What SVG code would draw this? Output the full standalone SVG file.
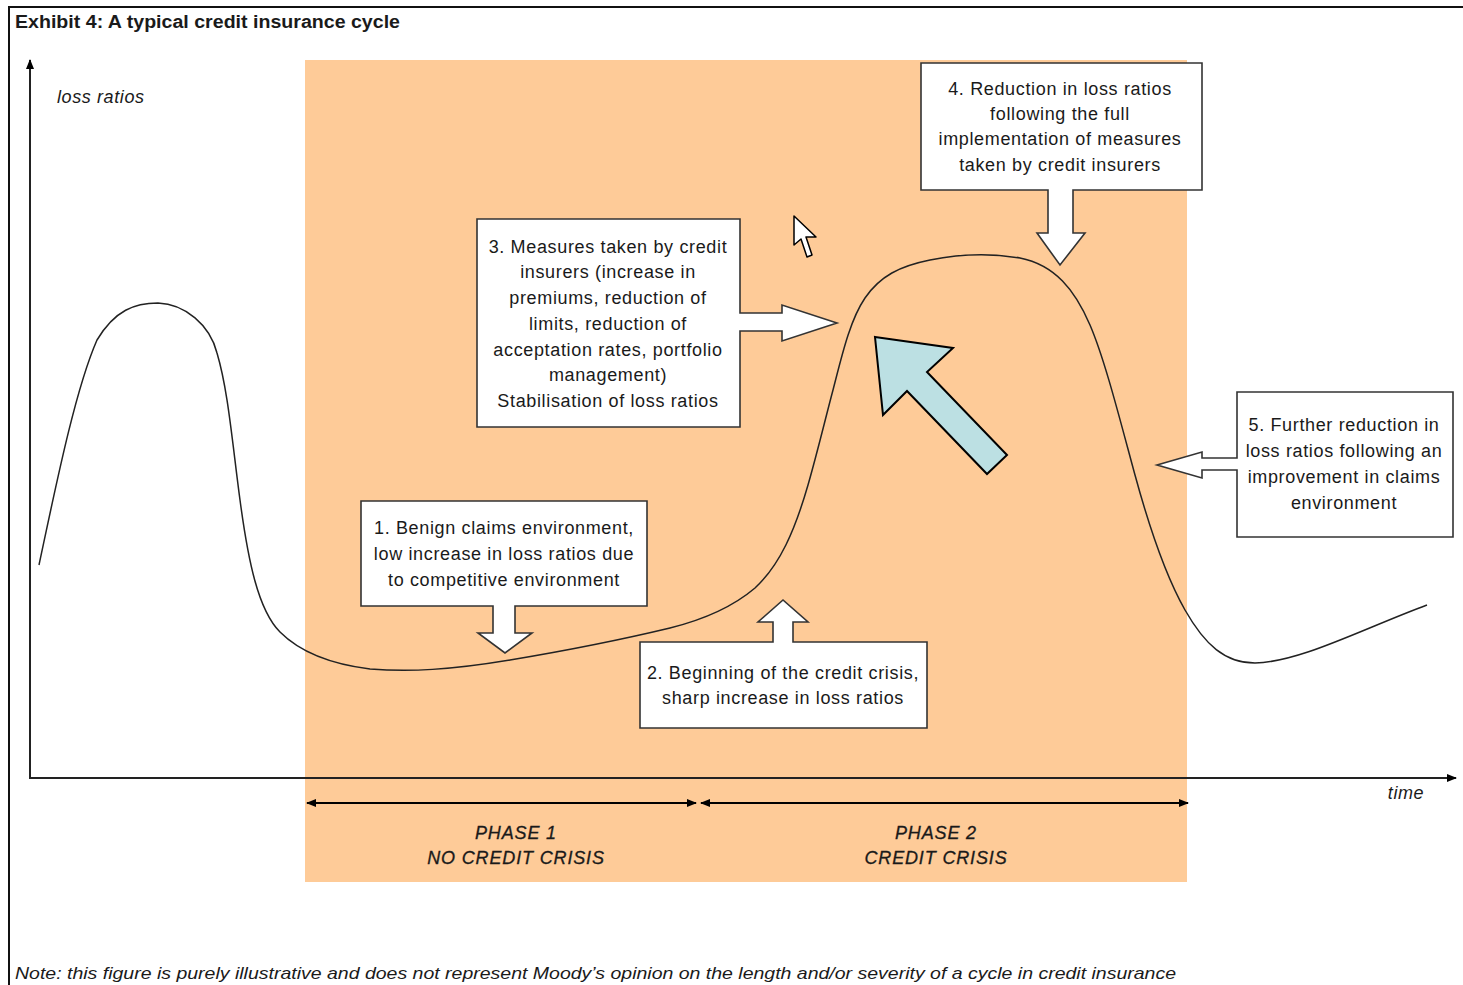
<svg xmlns="http://www.w3.org/2000/svg" width="1463" height="985" viewBox="0 0 1463 985">
<style>
text{font-family:"Liberation Sans",Arial,sans-serif;fill:#1a1a1a}
.box{fill:#fff;stroke:#333;stroke-width:1.6}
.bt{font-size:18px;letter-spacing:0.65px;text-anchor:middle}
.it{font-style:italic;font-size:18px;letter-spacing:0.6px}
.ph{font-size:18px;font-style:italic;text-anchor:middle;letter-spacing:0.85px;stroke:#1a1a1a;stroke-width:0.3}
.ax{stroke:#222;stroke-width:2;fill:none}
.pa{stroke:#000;stroke-width:2;fill:none}
</style>
<defs>
<marker id="ah" viewBox="0 0 10 10" refX="9" refY="5" markerWidth="5" markerHeight="5" orient="auto-start-reverse" markerUnits="strokeWidth">
<path d="M0,1 L10,5 L0,9 Z" fill="#000"/>
</marker>
<marker id="axh" viewBox="0 0 10 10" refX="9" refY="5" markerWidth="5" markerHeight="5" orient="auto" markerUnits="strokeWidth">
<path d="M0,1 L10,5 L0,9 Z" fill="#000"/>
</marker>
</defs>
<rect width="1463" height="985" fill="#fff"/>
<path d="M9,985 V7 H1463" fill="none" stroke="#111" stroke-width="2"/>
<text x="15" y="28" font-size="18" font-weight="bold" textLength="385" lengthAdjust="spacingAndGlyphs">Exhibit 4: A typical credit insurance cycle</text>
<rect id="crisis-band" x="305" y="60" width="882" height="822" fill="#FECB98"/>
<g id="connectors">
<line class="ax" x1="30" y1="779" x2="30" y2="60" marker-end="url(#axh)"/>
<line class="ax" x1="30" y1="778" x2="1456" y2="778" marker-end="url(#axh)"/>
<line class="pa" x1="307" y1="803" x2="696" y2="803" marker-start="url(#ah)" marker-end="url(#ah)"/>
<line class="pa" x1="701" y1="803" x2="1188" y2="803" marker-start="url(#ah)" marker-end="url(#ah)"/>
</g>
<text class="it" x="57" y="103">loss ratios</text>
<text class="it" x="1406" y="799" text-anchor="middle">time</text>
<path id="cycle-curve" d="M39,565 C55,490 75,390 97,340 C115,310 135,303 158,303 C185,304 210,325 217,353 C228,390 232,440 240,500 C248,560 258,610 280,632 C300,652 330,664 370,669 C410,672 450,670 510,660 C570,650 620,640 670,628 C710,618 735,605 755,588 C780,565 795,530 808,485 C818,450 825,420 833,390 C842,355 850,320 865,298 C880,276 900,266 930,260 C960,254 990,253 1020,258 C1055,265 1075,290 1090,325 C1105,360 1120,420 1135,475 C1150,530 1168,580 1185,610 C1205,645 1225,663 1255,663 C1300,662 1360,630 1427,605" fill="none" stroke="#222" stroke-width="1.5"/>
<g id="node1">
<path class="box" d="M361,501 H647 V606 H515 V633 H532 L505,653 L478,633 H493 V606 H361 Z"/>
<text class="bt" x="504" y="534">1. Benign claims environment,</text>
<text class="bt" x="504" y="560">low increase in loss ratios due</text>
<text class="bt" x="504" y="586">to competitive environment</text>
</g>
<g id="node2">
<path class="box" d="M640,642 H773 V622 H758 L783,600 L808,622 H793 V642 H927 V728 H640 Z"/>
<text class="bt" x="783" y="679">2. Beginning of the credit crisis,</text>
<text class="bt" x="783" y="704">sharp increase in loss ratios</text>
</g>
<g id="node3">
<path class="box" d="M477,219 H740 V313 H782 V305 L837,323 L782,341 V331 H740 V427 H477 Z"/>
<text class="bt" x="608" y="253">3. Measures taken by credit</text>
<text class="bt" x="608" y="278">insurers (increase in</text>
<text class="bt" x="608" y="304">premiums, reduction of</text>
<text class="bt" x="608" y="330">limits, reduction of</text>
<text class="bt" x="608" y="356">acceptation rates, portfolio</text>
<text class="bt" x="608" y="381">management)</text>
<text class="bt" x="608" y="407">Stabilisation of loss ratios</text>
</g>
<g id="node4">
<path class="box" d="M921,63 H1202 V190 H1073 V233 H1085 L1060,265 L1037,233 H1048 V190 H921 Z"/>
<text class="bt" x="1060" y="95">4. Reduction in loss ratios</text>
<text class="bt" x="1060" y="120">following the full</text>
<text class="bt" x="1060" y="145">implementation of measures</text>
<text class="bt" x="1060" y="171">taken by credit insurers</text>
</g>
<g id="node5">
<path class="box" d="M1237,392 H1453 V537 H1237 V470 H1202 V478 L1157,465 L1202,452 V458 H1237 Z"/>
<text class="bt" x="1344" y="431">5. Further reduction in</text>
<text class="bt" x="1344" y="457">loss ratios following an</text>
<text class="bt" x="1344" y="483">improvement in claims</text>
<text class="bt" x="1344" y="509">environment</text>
</g>
<g id="blue-arrow">
<polygon points="875,337 953,348 927,372 1007,455 987,474 907,391 883,415" fill="#BCE0E3" stroke="#000" stroke-width="2" stroke-linejoin="miter"/>
</g>
<g id="cursor">
<polygon points="794,216 794,245 801,239 807,257 812,255 806,237 816,237" fill="#fff" stroke="#000" stroke-width="1.5" stroke-linejoin="round"/>
</g>
<g id="phase1">
<text class="ph" x="516" y="839">PHASE 1</text>
<text class="ph" x="516" y="864">NO CREDIT CRISIS</text>
</g>
<g id="phase2">
<text class="ph" x="936" y="839">PHASE 2</text>
<text class="ph" x="936" y="864">CREDIT CRISIS</text>
</g>
<text x="15" y="979" font-style="italic" font-size="16.5" textLength="1161" lengthAdjust="spacingAndGlyphs">Note: this figure is purely illustrative and does not represent Moody’s opinion on the length and/or severity of a cycle in credit insurance</text>
</svg>
